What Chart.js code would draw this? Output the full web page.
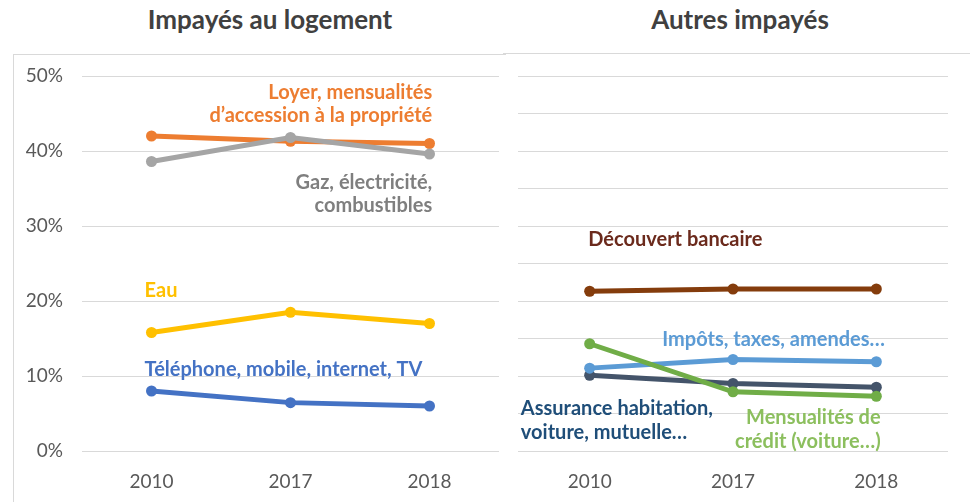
<!DOCTYPE html>
<html>
<head>
<meta charset="utf-8">
<script src="https://cdn.jsdelivr.net/npm/chart.js@4"></script>
<style>
  html, body { margin: 0; padding: 0; background: #fff; }
  body { width: 970px; height: 502px; position: relative; overflow: hidden; font-family: Lato, sans-serif; }
  .title { position: absolute; top: 2px; height: 34px; line-height: 34px; font-weight: bold; font-size: 26px; color: #404040; text-align: center; }
  .box { position: absolute; border-top: 1px solid #d9d9d9; }
  .wrap { position: absolute; top: 0; height: 502px; }
</style>
</head>
<body>
<div class="title" style="left:120px;width:300px;">Impayés au logement</div>
<div class="title" style="left:590px;width:300px;">Autres impayés</div>
<div class="box" style="left:13px;top:54px;width:492px;height:448px;border-left:1px solid #d9d9d9;"></div>
<div class="box" style="left:503px;top:53px;width:467px;height:0;"></div>
<div class="wrap" style="left:0;width:505px;"><canvas id="leftChart"></canvas></div>
<div class="wrap" style="left:505px;width:465px;"><canvas id="rightChart"></canvas></div>
<script>
const years = ['2010', '2017', '2018'];

// Impayés au logement (%)
const loyer = [42.0, 41.3, 41.0];
const gaz = [38.6, 41.8, 39.6];
const eau = [15.8, 18.5, 17.0];
const telephone = [8.0, 6.45, 6.0];

// Autres impayés (%)
const decouvert = [21.3, 21.6, 21.6];
const impots = [11.05, 12.2, 11.9];
const mensualites = [14.3, 7.9, 7.3];
const assurance = [10.1, 9.0, 8.5];

// series labels, placed in data units (category index, percent)
const leftLabels = [
  { text: 'Loyer, mensualités', color: '#ED7D31', x: 2.02, y: 47.8, align: 'right' },
  { text: 'd’accession à la propriété', color: '#ED7D31', x: 2.02, y: 44.7, align: 'right' },
  { text: 'Gaz, électricité,', color: '#7F7F7F', x: 2.02, y: 35.8, align: 'right' },
  { text: 'combustibles', color: '#7F7F7F', x: 2.02, y: 32.7, align: 'right' },
  { text: 'Eau', color: '#FFC000', x: -0.05, y: 21.4, align: 'left' },
  { text: 'Téléphone, mobile, internet, TV', color: '#4472C4', x: -0.05, y: 10.9, align: 'left' }
];
const rightLabels = [
  { text: 'Découvert bancaire', color: '#6B2A1C', x: -0.01, y: 28.2, align: 'left' },
  { text: 'Impôts, taxes, amendes…', color: '#5B9BD5', x: 2.06, y: 14.8, align: 'right' },
  { text: 'Assurance habitation,', color: '#1F4E79', x: -0.48, y: 5.6, align: 'left' },
  { text: 'voiture, mutuelle…', color: '#1F4E79', x: -0.48, y: 2.4, align: 'left' },
  { text: 'Mensualités de', color: '#8CBF5E', x: 2.03, y: 4.5, align: 'right' },
  { text: 'crédit (voiture…)', color: '#8CBF5E', x: 2.03, y: 1.3, align: 'right' }
];

const seriesLabels = {
  id: 'seriesLabels',
  afterDatasetsDraw(chart, args, opts) {
    const ctx = chart.ctx;
    const xs = chart.scales.x, ys = chart.scales.y;
    ctx.save();
    ctx.font = 'bold 20px Lato, sans-serif';
    ctx.textBaseline = 'middle';
    (opts.items || []).forEach(l => {
      ctx.fillStyle = l.color;
      ctx.textAlign = l.align;
      ctx.fillText(l.text, xs.getPixelForValue(l.x), ys.getPixelForValue(l.y));
    });
    ctx.restore();
  }
};

function line(data, color) {
  return {
    data: data,
    borderColor: color,
    backgroundColor: color,
    borderWidth: 5,
    pointRadius: 5.5,
    pointBorderWidth: 0,
    pointHoverRadius: 5.5,
    tension: 0
  };
}

function opts(showY, step, padRight, labels) {
  return {
    responsive: true,
    maintainAspectRatio: false,
    animation: false,
    events: [],
    layout: { padding: { top: 76, right: padRight, left: 0, bottom: 0 } },
    plugins: {
      legend: { display: false },
      tooltip: { enabled: false },
      seriesLabels: { items: labels }
    },
    scales: {
      x: {
        offset: true,
        grid: { display: false },
        border: { display: false },
        ticks: { color: '#595959', font: { family: 'Lato', size: 19 }, padding: 11 },
        afterFit: s => { s.height = 51; }
      },
      y: {
        min: 0,
        max: 50,
        grid: { color: '#d9d9d9', lineWidth: 1, drawTicks: false },
        border: { display: false },
        ticks: {
          display: showY,
          stepSize: step,
          padding: 19,
          color: '#595959',
          font: { family: 'Lato', size: 19 },
          callback: v => v + '%'
        },
        afterFit: s => { s.width = showY ? 82 : 13; }
      }
    }
  };
}

new Chart(document.getElementById('leftChart'), {
  type: 'line',
  data: {
    labels: years,
    datasets: [
      line(gaz, '#A5A5A5'),
      line(loyer, '#ED7D31'),
      line(eau, '#FFC000'),
      line(telephone, '#4472C4')
    ]
  },
  options: opts(true, 10, 6, leftLabels),
  plugins: [seriesLabels]
});

new Chart(document.getElementById('rightChart'), {
  type: 'line',
  data: {
    labels: years,
    datasets: [
      line(mensualites, '#70AD47'),
      line(decouvert, '#843C0C'),
      line(impots, '#5B9BD5'),
      line(assurance, '#44546A')
    ]
  },
  options: opts(false, 5, 22, rightLabels),
  plugins: [seriesLabels]
});
</script>
</body>
</html>
